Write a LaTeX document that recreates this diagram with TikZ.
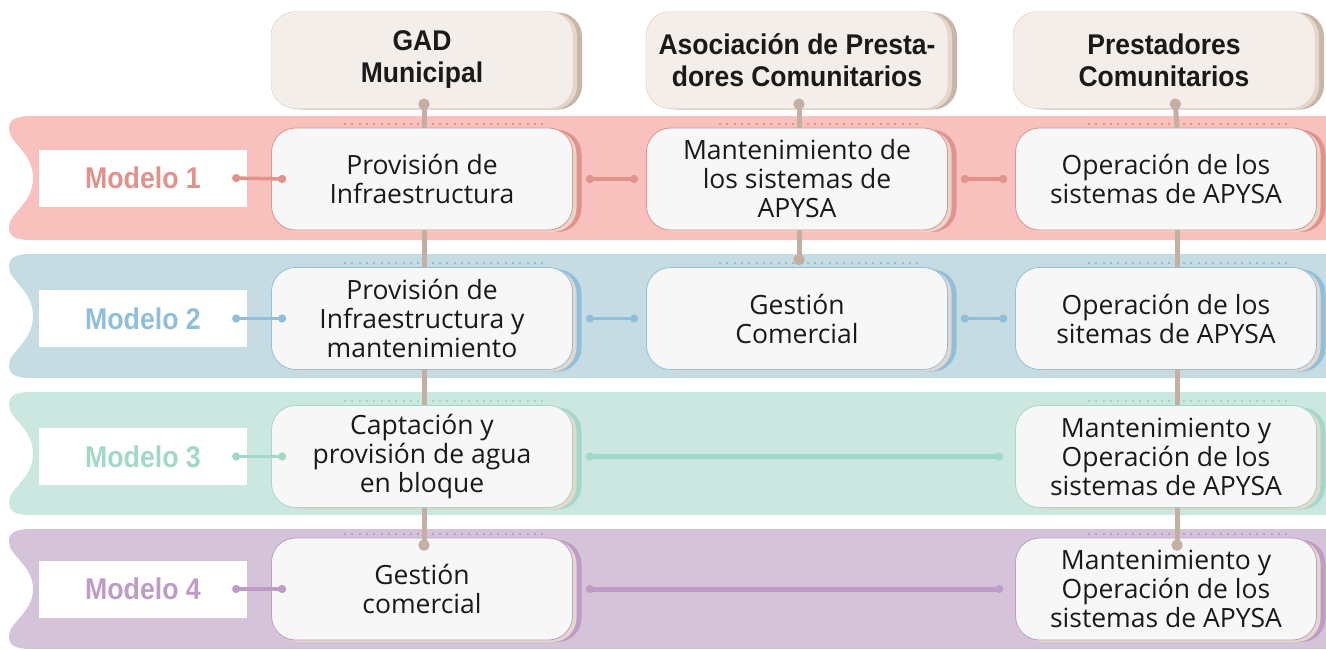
\documentclass[tikz,border=0pt]{standalone}
\usepackage{fontspec}
\setmainfont{Open Sans}
\newfontfamily\narrowfont[FakeStretch=0.89]{Liberation Sans}
\newfontfamily\headfont[FakeStretch=0.93]{Liberation Sans}
\usepackage{xcolor}
\definecolor{bandred}{HTML}{F9C1BD}
\definecolor{linered}{HTML}{E0928B}
\definecolor{bandblue}{HTML}{C5DCE3}
\definecolor{lineblue}{HTML}{8FBFDC}
\definecolor{bandgreen}{HTML}{CBE7E0}
\definecolor{linegreen}{HTML}{A1D8C9}
\definecolor{bandlilac}{HTML}{D5C4D9}
\definecolor{linelilac}{HTML}{BE9CC7}
\definecolor{stemtan}{HTML}{C4B0A3}
\definecolor{paper}{HTML}{F7F7F7}
\definecolor{headfill}{HTML}{F3EEEA}
\definecolor{headrim}{HTML}{D9CBC1}
\definecolor{headshade}{HTML}{C9B6A8}
\definecolor{boxshade}{HTML}{E6D7CD}
\definecolor{ink}{HTML}{1A1A1A}
\usepackage{tikz}
\usetikzlibrary{positioning,arrows.meta,shadows}

\tikzset{
  header/.style={draw=headrim,fill=headfill,rounded corners=24pt,
    minimum width=302pt,minimum height=97pt,align=center,text=ink,
    font=\headfont\bfseries\fontsize{28.5}{32}\selectfont,
    general shadow={fill=headshade,shadow xshift=9pt,shadow yshift=-1pt},
    general shadow={fill=boxshade,shadow xshift=4pt,shadow yshift=-1pt}},
  task/.style={draw=#1,line width=0.8pt,fill=paper,rounded corners=24pt,
    minimum width=301pt,minimum height=102pt,align=center,text=ink,
    font=\fontsize{26.5}{29}\selectfont,
    general shadow={fill=#1,shadow xshift=9pt,shadow yshift=-2pt},
    general shadow={fill=boxshade,shadow xshift=4pt,shadow yshift=-2pt}},
  tag/.style={fill=white,minimum width=208pt,minimum height=57pt,text=#1,
    font=\narrowfont\bfseries\fontsize{30}{34}\selectfont},
  link/.style={draw=#1,line width=3.5pt,{Circle[length=8pt]}-{Circle[length=8pt]}},
  stem/.style={draw=stemtan,line width=5pt},
  rim/.style={draw=#1,line width=2pt,dash pattern=on 2pt off 5.3pt}
}

\begin{document}
\begin{tikzpicture}[x=1pt,y=-1pt]
  \useasboundingbox (0,0) rectangle (1326,649);

  % model bands
  \foreach \ya/\yb/\col in {116/240/bandred,254/378/bandblue,392/515/bandgreen,529/649/bandlilac}
    \fill[\col] (1326,\ya) -- (32,\ya) .. controls (14,\ya) and (9,\ya+4) .. (9,\ya+13)
      .. controls (9,\ya+27) and (33,\ya+36) .. (33,{(\ya+\yb)/2})
      .. controls (33,\yb-36) and (9,\yb-27) .. (9,\yb-13)
      .. controls (9,\yb-4) and (14,\yb) .. (32,\yb) -- (1326,\yb) -- cycle;

  % actors
  \node[header] (gad) at (422,60) {GAD\\Municipal};
  \node[header] (asoc) at (797,60) {Asociación de Presta-\\dores Comunitarios};
  \node[header] (prest) at (1164,60) {Prestadores\\Comunitarios};

  % models
  \node[tag=linered] (m1) at (143,178) {Modelo 1};
  \node[tag=lineblue] (m2) at (143,318.5) {Modelo 2};
  \node[tag=linegreen] (m3) at (143,456.5) {Modelo 3};
  \node[tag=linelilac] (m4) at (143,589) {Modelo 4};

  \node[task=linered] (gad1) at (422,179) {Provisión de\\Infraestructura};
  \node[task=linered] (asoc1) at (797,179) {Mantenimiento de\\los sistemas de\\APYSA};
  \node[task=linered] (prest1) at (1166,179) {Operación de los\\sistemas de APYSA};

  \node[task=lineblue] (gad2) at (422,318.5) {Provisión de\\Infraestructura y\\mantenimiento};
  \node[task=lineblue] (asoc2) at (797,318.5) {Gestión\\Comercial};
  \node[task=lineblue] (prest2) at (1166,318.5) {Operación de los\\sitemas de APYSA};

  \node[task=linegreen] (gad3) at (422,456.5) {Captación y\\provisión de agua\\en bloque};
  \node[task=linegreen] (prest3) at (1166,456.5) {Mantenimiento y\\Operación de los\\sistemas de APYSA};

  \node[task=linelilac] (gad4) at (422,589) {Gestión\\comercial};
  \node[task=linelilac] (prest4) at (1166,589) {Mantenimiento y\\Operación de los\\sistemas de APYSA};

  % dotted rims above the boxes
  \foreach \n/\col in {gad1/linered,asoc1/linered,prest1/linered,gad2/lineblue,asoc2/lineblue,
      prest2/lineblue,gad3/linegreen,prest3/linegreen,gad4/linelilac,prest4/linelilac}
    \draw[rim=\col] ([xshift=73pt,yshift=4pt]\n.north west) -- ([xshift=-27pt,yshift=4pt]\n.north east);

  % model links
  \draw[link=linered] ([xshift=-15pt]m1.east) -- ([xshift=15pt]gad1.west);
  \draw[link=linered] ([xshift=13pt]gad1.east) -- ([xshift=-8pt]asoc1.west);
  \draw[link=linered] ([xshift=13pt]asoc1.east) -- ([xshift=-8pt]prest1.west);
  \draw[link=lineblue] ([xshift=-15pt]m2.east) -- ([xshift=15pt]gad2.west);
  \draw[link=lineblue] ([xshift=13pt]gad2.east) -- ([xshift=-8pt]asoc2.west);
  \draw[link=lineblue] ([xshift=13pt]asoc2.east) -- ([xshift=-8pt]prest2.west);
  \draw[link=linegreen] ([xshift=-15pt]m3.east) -- ([xshift=15pt]gad3.west);
  \draw[link=linegreen,line width=5pt] ([xshift=13pt]gad3.east) -- ([xshift=-12pt]prest3.west);
  \draw[link=linelilac] ([xshift=-15pt]m4.east) -- ([xshift=15pt]gad4.west);
  \draw[link=linelilac,line width=5pt] ([xshift=13pt]gad4.east) -- ([xshift=-12pt]prest4.west);

  % stems
  \foreach \c/\dx in {gad/2,asoc/2,prest/11}
    \draw[stem,{Circle[length=11pt]}-] ([xshift=\dx pt,yshift=10pt]\c.south) -- ([xshift=\dx pt]\c1.north);
  \draw[stem] ([xshift=2pt]gad1.south) -- ([xshift=2pt]gad2.north);
  \draw[stem] ([xshift=2pt]gad2.south) -- ([xshift=2pt]gad3.north);
  \draw[stem,-{Circle[length=11pt]}] ([xshift=2pt]gad3.south) -- ([xshift=2pt,yshift=-13pt]gad4.north);
  \draw[stem,-{Circle[length=11pt]}] ([xshift=2pt]asoc1.south) -- ([xshift=2pt,yshift=2pt]asoc2.north);
  \draw[stem] ([xshift=11pt]prest1.south) -- ([xshift=11pt]prest2.north);
  \draw[stem] ([xshift=11pt]prest2.south) -- ([xshift=11pt]prest3.north);
  \draw[stem,-{Circle[length=11pt]}] ([xshift=11pt]prest3.south) -- ([xshift=11pt,yshift=-13pt]prest4.north);
\end{tikzpicture}
\end{document}
